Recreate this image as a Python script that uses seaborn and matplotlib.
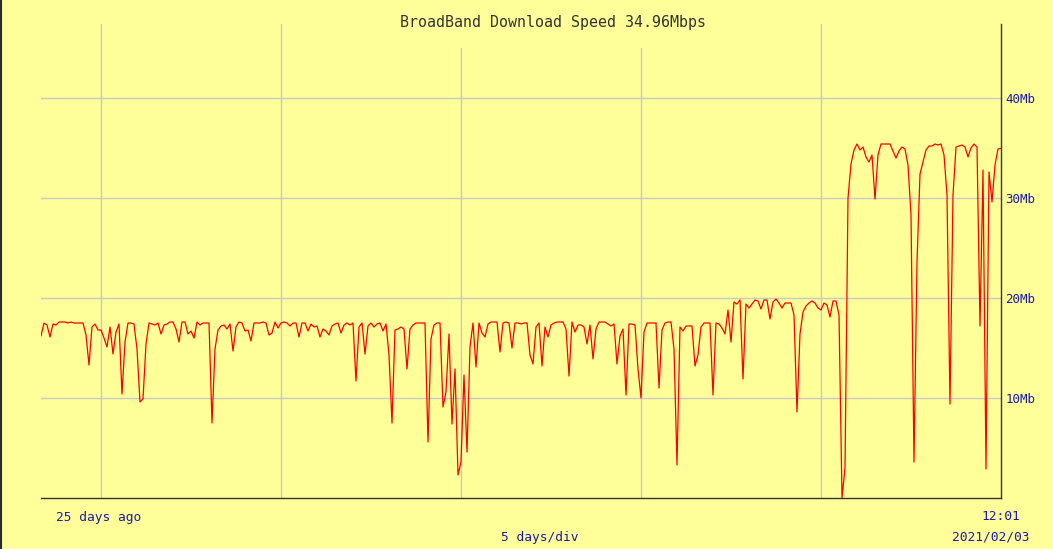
import numpy as np
import pandas as pd
import matplotlib.pyplot as plt
import seaborn as sns
from matplotlib.patches import Rectangle
from matplotlib.lines import Line2D

# Messwerte alle 2 Stunden, Zeit in Stunden relativ zu 2021/02/03 12:01
hours_ago = np.arange(-640, 1, 2)

# Download-Speed in Mbps (4 Abschnitte)
speed_w1 = [16.2, 17.5, 17.3, 16.1, 17.4, 17.3, 17.6, 17.6, 17.6, 17.5,
            17.6, 17.5, 17.5, 17.5, 17.5, 16.3, 13.3, 17.1, 17.4, 16.8,
            16.8, 16.0, 15.1, 17.1, 14.4, 16.6, 17.4, 10.4, 15.6, 17.5,
            17.5, 17.4, 14.9, 9.6, 9.9, 15.4, 17.5, 17.4, 17.3, 17.5,
            16.4, 17.3, 17.4, 17.6, 17.6, 16.9, 15.6, 17.6, 17.6, 16.4,
            16.7, 16.0, 17.6, 17.3, 17.5, 17.5, 17.5, 7.5, 14.9, 16.8,
            17.2, 17.3, 16.9, 17.4, 14.7, 17.1, 17.6, 17.5, 16.7, 16.8,
            15.7, 17.5, 17.5, 17.5, 17.6, 17.5, 16.3, 16.5, 17.6, 17.0]
speed_w2 = [17.5, 17.6, 17.5, 17.2, 17.5, 17.5, 16.1, 17.5, 17.5, 16.7,
            17.4, 17.1, 17.2, 16.1, 16.9, 16.7, 16.3, 17.2, 17.4, 17.5,
            16.5, 17.3, 17.5, 17.3, 17.5, 11.7, 17.1, 17.5, 14.4, 17.2,
            17.5, 17.1, 17.4, 17.5, 16.7, 17.4, 14.3, 7.5, 16.8, 16.9,
            17.1, 16.9, 12.9, 16.9, 17.3, 17.5, 17.5, 17.5, 17.5, 5.6,
            15.9, 17.3, 17.5, 17.5, 9.1, 10.6, 16.4, 7.4, 12.9, 2.3,
            3.6, 12.3, 4.6, 15.1, 17.5, 13.1, 17.5, 16.5, 16.1, 17.4,
            17.6, 17.6, 17.6, 14.6, 17.5, 17.6, 17.5, 15.0, 17.5, 17.5]
speed_w3 = [17.4, 17.5, 17.5, 14.3, 13.4, 17.1, 17.5, 13.2, 17.1, 16.1,
            17.3, 17.5, 17.6, 17.6, 17.6, 16.9, 12.2, 17.6, 16.6, 17.3,
            17.3, 17.1, 15.4, 17.3, 13.9, 16.9, 17.6, 17.6, 17.6, 17.4,
            17.2, 17.4, 13.4, 16.2, 16.9, 10.3, 17.4, 17.4, 17.3, 12.9,
            10.0, 16.6, 17.5, 17.5, 17.5, 17.5, 11.0, 16.8, 17.5, 17.6,
            17.6, 14.9, 3.3, 17.1, 16.7, 17.2, 17.2, 17.2, 13.2, 14.3,
            17.1, 17.5, 17.5, 17.5, 10.3, 17.5, 17.4, 17.0, 16.4, 18.8,
            15.6, 19.6, 19.4, 19.8, 11.9, 19.4, 19.0, 19.4, 19.8, 19.7]
speed_w4 = [18.9, 19.8, 19.8, 17.9, 19.6, 19.9, 19.5, 19.0, 19.5, 19.5,
            19.5, 18.3, 8.6, 16.4, 18.6, 19.2, 19.5, 19.7, 19.5, 19.0,
            18.8, 19.5, 19.3, 18.1, 19.7, 19.7, 18.3, 0.0, 3.0, 30.0,
            33.4, 34.8, 35.4, 34.8, 35.1, 34.1, 33.6, 34.3, 29.9, 34.3,
            35.4, 35.4, 35.4, 35.4, 34.7, 34.0, 34.7, 35.1, 34.9, 33.3,
            28.3, 3.6, 23.6, 32.4, 33.6, 34.8, 35.2, 35.2, 35.4, 35.3,
            35.4, 34.3, 30.3, 9.4, 30.3, 35.1, 35.2, 35.3, 35.1, 34.1,
            35.0, 35.4, 35.1, 17.2, 32.8, 2.9, 32.6, 29.6, 33.3, 34.9,
            34.96]

speed = speed_w1 + speed_w2 + speed_w3 + speed_w4
df = pd.DataFrame({'hours': hours_ago, 'speed': speed})

y_ticks = [10, 20, 30, 40]
y_labels = ['10Mb', '20Mb', '30Mb', '40Mb']
x_grid = [-600, -480, -360, -240, -120]   # alle 5 Tage

bg = '#FFFF99'
blue = '#1a1aa6'
dark = '#333333'

sns.set_style('white')
plt.rcParams['font.family'] = ['DejaVu Sans Mono', 'DejaVu Sans']

W, H = 1053, 549
fig = plt.figure(figsize=(W / 100, H / 100), dpi=100, facecolor=bg)
ax = fig.add_axes([41 / W, 1 - 498 / H, 960 / W, 474 / H])
ax.set_facecolor(bg)

sns.lineplot(data=df, x='hours', y='speed', color='#FF0000', linewidth=0.9, ax=ax)

ax.set_xlim(-640, 0)
ax.set_ylim(0, 47.4)
ax.set_xticks(x_grid)
ax.set_xticklabels([])
ax.set_yticks(y_ticks)
ax.set_yticklabels(y_labels)
ax.yaxis.tick_right()
ax.tick_params(axis='both', length=0)
ax.tick_params(axis='y', pad=3, labelsize=9, labelcolor=blue)
ax.set_xlabel('')
ax.set_ylabel('')
ax.grid(True, color='#C8C8C8', linewidth=1)
ax.set_axisbelow(True)

for s in ['left', 'top']:
    ax.spines[s].set_visible(False)
for s in ['bottom', 'right']:
    ax.spines[s].set_visible(True)
    ax.spines[s].set_color(dark)
    ax.spines[s].set_linewidth(1.0)

# Titelfeld deckt das Gitter oben ab
fig.add_artist(Rectangle((395 / W, 1 - 48 / H), 317 / W, 48 / H,
                         transform=fig.transFigure, facecolor=bg,
                         edgecolor='none', zorder=5))
fig.text(553 / W, 1 - 22 / H, 'BroadBand Download Speed 34.96Mbps',
         ha='center', va='center', fontsize=10.8, color=dark, zorder=6)

fig.text(56 / W, 1 - 517 / H, '25 days ago', ha='left', va='center',
         fontsize=9.3, color=blue)
fig.text(540 / W, 1 - 537 / H, '5 days/div', ha='center', va='center',
         fontsize=9.3, color=blue)
fig.text(1001 / W, 1 - 517 / H, '12:01', ha='center', va='center',
         fontsize=9.3, color=blue)
fig.text(991 / W, 1 - 537 / H, '2021/02/03', ha='center', va='center',
         fontsize=9.3, color=blue)

# dunkler Rand links
fig.add_artist(Line2D([0.8 / W, 0.8 / W], [0, 1], transform=fig.transFigure,
                      color='#2a2a2a', linewidth=1.5))

fig.savefig('out.png', dpi=100, facecolor=bg)
